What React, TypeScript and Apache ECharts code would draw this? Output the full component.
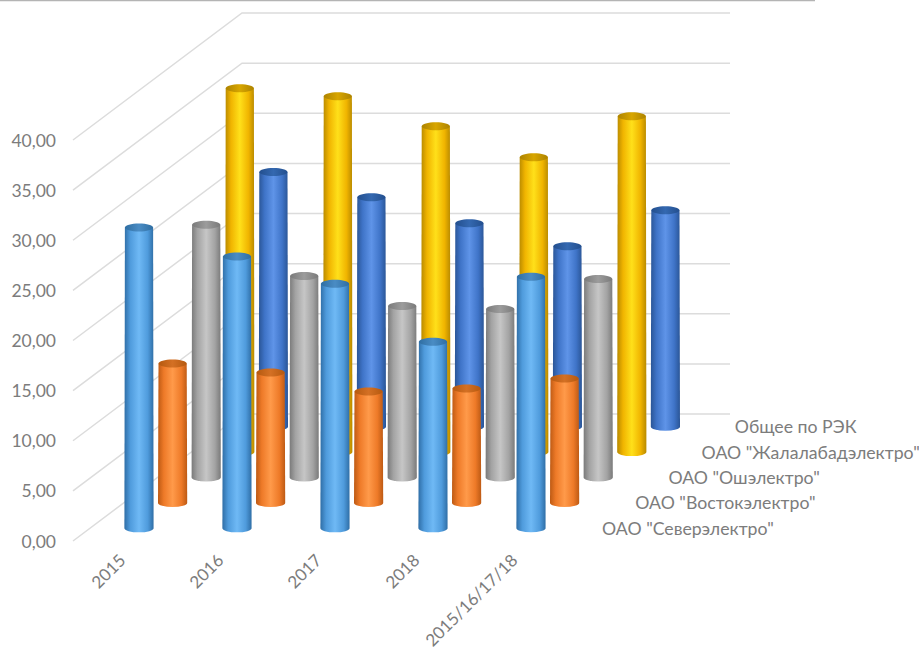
import React, { useEffect, useRef } from "react";
import * as echarts from "echarts";

const categories = ["2015", "2016", "2017", "2018", "2015/16/17/18"];
const seriesNames = [
  'ОАО "Северэлектро"',
  'ОАО "Востокэлектро"',
  'ОАО "Ошэлектро"',
  'ОАО "Жалалабадэлектро"',
  "Общее по РЭК",
];
const severValues = [30.0, 27.1, 24.4, 18.6, 25.1];
const vostokValues = [13.9, 13.0, 11.1, 11.4, 12.4];
const oshValues = [25.2, 20.1, 17.1, 16.8, 19.8];
const jalalabadValues = [36.3, 35.5, 32.5, 29.4, 33.5];
const totalValues = [25.4, 22.9, 20.3, 18.0, 21.6];
const valueTicks = [0, 5, 10, 15, 20, 25, 30, 35, 40];

const seriesValues = [severValues, vostokValues, oshValues, jalalabadValues, totalValues];

// edge, mid, highlight, cap-dark, cap-light
const palettes = [
  ["#2f6ea6", "#4f9bdc", "#6fb9f5", "#2f6ea2", "#4a8cc4"],
  ["#bd5a14", "#ee7a28", "#ff9a4a", "#b5590f", "#d47024"],
  ["#7a7a7a", "#a3a3a3", "#c6c6c6", "#7a7a7a", "#9c9c9c"],
  ["#b88a00", "#f0b400", "#ffe01a", "#ad8300", "#d8a600"],
  ["#2a5596", "#3f74c8", "#5f94e8", "#234f8e", "#3468b0"],
];

const FONT = 'Lato, "Open Sans", sans-serif';
const TEXT = "#7c7c7c";
const GRID = { left: 73, top: 140, width: 490, height: 401, outerBoundsMode: "none" };
// Shift of the back wall relative to the front plane, in pixels.
const DEPTH_X = 169;
const DEPTH_Y = -127;
const ROWS = 5;
// Spacing between the rows of cylinders along the depth axis.
const ROW_X0 = 17;
const ROW_DX = 33.6;
const RX = 14.6;
const RY = 4;

function sideGradient(p: string[]) {
  return new echarts.graphic.LinearGradient(0, 0, 1, 0, [
    { offset: 0, color: p[0] },
    { offset: 0.2, color: p[1] },
    { offset: 0.5, color: p[2] },
    { offset: 0.8, color: p[1] },
    { offset: 1, color: p[0] },
  ]);
}

function capGradient(p: string[]) {
  return new echarts.graphic.LinearGradient(0, 0, 1, 0, [
    { offset: 0, color: p[3] },
    { offset: 0.5, color: p[4] },
    { offset: 1, color: p[3] },
  ]);
}

function wallsItem(params: any, api: any) {
  const [, fy] = api.coord([0, api.value(0)]);
  const cs = params.coordSys;
  return {
    type: "polyline",
    silent: true,
    shape: {
      points: [
        [cs.x, fy],
        [cs.x + DEPTH_X, fy + DEPTH_Y],
        [cs.x + cs.width + DEPTH_X - 2, fy + DEPTH_Y],
      ],
    },
    style: { stroke: "#dcdcdc", lineWidth: 1.5, fill: "none" },
  };
}

function cylinderItem(row: number) {
  const p = palettes[row];
  const f = (row + 0.5) / ROWS;
  return (_params: any, api: any) => {
    const i = api.value(0);
    const top = api.coord([i, api.value(1)]);
    const base = api.coord([i, 0]);
    const cx = top[0] + ROW_X0 + ROW_DX * row;
    const ty = top[1] + DEPTH_Y * f;
    const by = base[1] + DEPTH_Y * f;
    const rxTop = RX - 0.5;
    const d =
      `M${cx - rxTop} ${ty} L${cx - RX} ${by} ` +
      `A${RX} ${RY} 0 0 0 ${cx + RX} ${by} L${cx + rxTop} ${ty} Z`;
    return {
      type: "group",
      children: [
        { type: "path", shape: { d }, style: { fill: sideGradient(p) } },
        {
          type: "ellipse",
          shape: { cx, cy: ty, rx: rxTop, ry: RY },
          style: { fill: capGradient(p) },
        },
      ],
    };
  };
}

function rowLabelItem(params: any, api: any) {
  const k = api.value(0);
  const cs = params.coordSys;
  const f = (k + 0.5) / ROWS;
  return {
    type: "text",
    style: {
      x: cs.x + cs.width + 39 + 33.2 * k,
      y: cs.y + cs.height + DEPTH_Y * f,
      text: seriesNames[k],
      fill: TEXT,
      font: `17.7px ${FONT}`,
      textAlign: "left",
      textVerticalAlign: "middle",
    },
  };
}

export default function App() {
  const ref = useRef<HTMLDivElement>(null);

  useEffect(() => {
    const chart = echarts.init(ref.current!, null, { renderer: "svg" });
    const back = [4, 3, 2, 1, 0];
    chart.setOption({
      animation: false,
      backgroundColor: "#ffffff",
      grid: GRID,
      xAxis: {
        type: "category",
        data: categories,
        axisLine: { show: false },
        axisTick: { show: false },
        splitLine: { show: false },
        axisLabel: {
          rotate: 45,
          interval: 0,
          margin: 16,
          color: TEXT,
          fontFamily: FONT,
          fontSize: 17,
        },
      },
      yAxis: {
        type: "value",
        min: 0,
        max: 40,
        interval: 5,
        axisLine: { show: false },
        axisTick: { show: false },
        splitLine: { show: false },
        axisLabel: {
          margin: 17,
          color: TEXT,
          fontFamily: FONT,
          fontSize: 17.5,
          formatter: (v: number) => v.toFixed(2).replace(".", ","),
        },
      },
      graphic: [
        {
          type: "line",
          shape: { x1: 0, y1: 0.5, x2: 815, y2: 0.5 },
          style: { stroke: "#b4b4b4", lineWidth: 1.5 },
          silent: true,
        },
      ],
      series: [
        {
          type: "custom",
          name: "walls",
          coordinateSystem: "cartesian2d",
          renderItem: wallsItem,
          data: valueTicks.map((v) => [v]),
          encode: { y: 0 },
          silent: true,
          z: 1,
        },
        ...back.map((row) => ({
          type: "custom",
          name: seriesNames[row],
          coordinateSystem: "cartesian2d",
          renderItem: cylinderItem(row),
          data: seriesValues[row].map((v, i) => [i, v]),
          encode: { x: 0, y: 1 },
          z: 2 + (ROWS - row),
        })),
        {
          type: "custom",
          name: "rows",
          coordinateSystem: "cartesian2d",
          renderItem: rowLabelItem,
          data: seriesNames.map((_, k) => [k]),
          encode: { x: 0 },
          silent: true,
          z: 10,
        },
      ],
    });
    return () => chart.dispose();
  }, []);

  return (
    <div
      ref={ref}
      style={{ position: "absolute", left: 0, top: 0, width: 919, height: 650 }}
    />
  );
}
